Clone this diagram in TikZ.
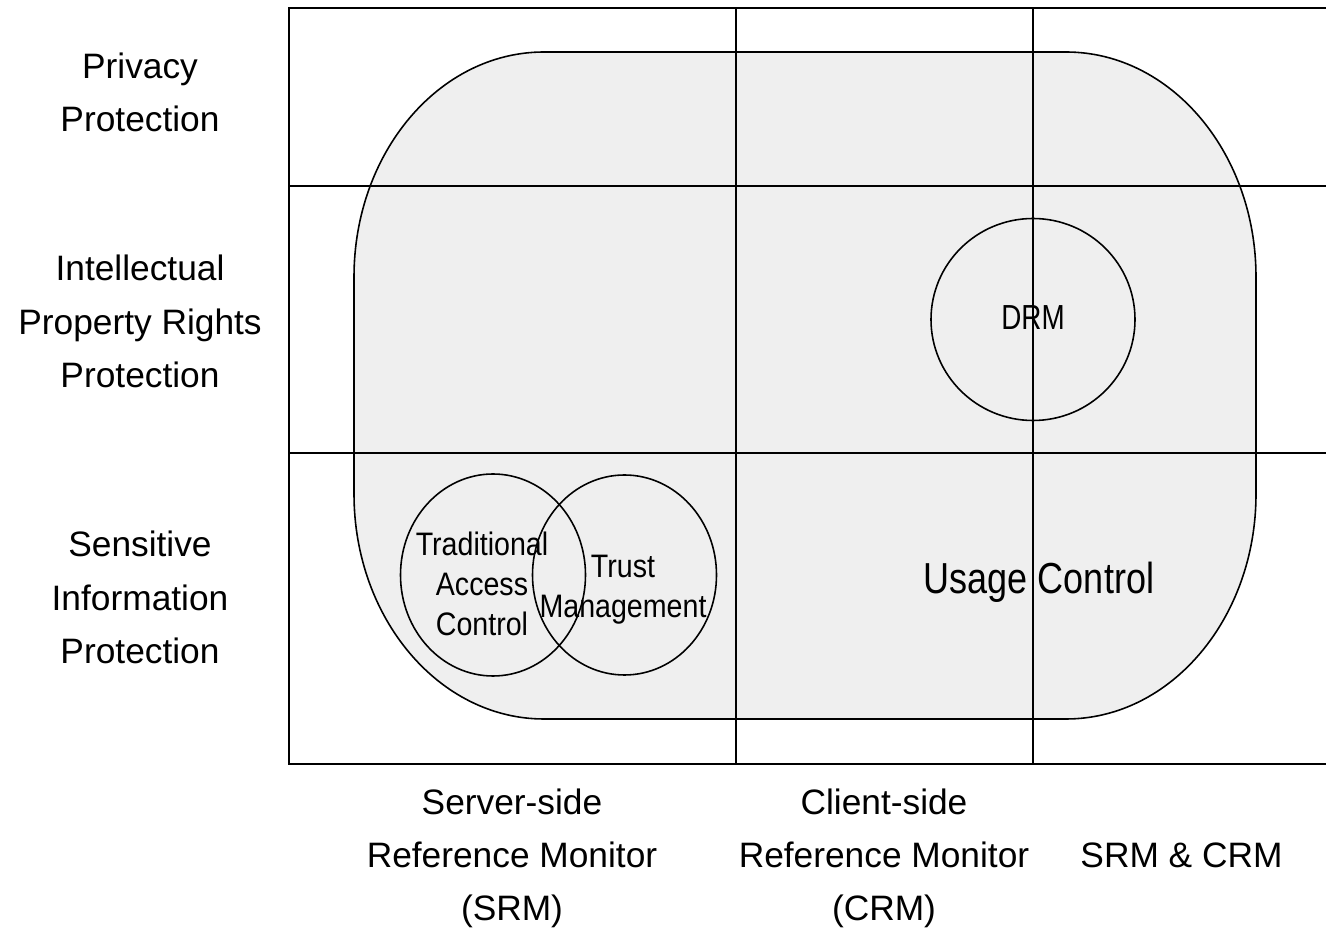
\documentclass[tikz,border=0pt]{standalone}
\usepackage{fontspec}
\setmainfont{Liberation Sans}
\begin{document}
\begin{tikzpicture}[x=0.02cm,y=0.02cm,
  gridline/.style={line width=0.9pt,black},
  outline/.style={line width=0.9pt,black},
  axislabel/.style={align=center,anchor=base,inner sep=0pt,
    font=\fontsize{20.1}{30.4}\selectfont},
  innerlabel/.style={align=center,anchor=base,inner sep=0pt,xscale=0.88,
    font=\fontsize{18.5}{23}\selectfont}]
\useasboundingbox (0,0) rectangle (1326,930);
\fill[white] (0,0) rectangle (1326,930);

% usage control region: rounded rectangle with elliptical corners
\filldraw[outline,fill={rgb,255:red,239;green,239;blue,239}]
  (544,878) -- (1066,878)
  arc[start angle=90,end angle=0,x radius=190,y radius=225]
  -- (1256,436)
  arc[start angle=0,end angle=-90,x radius=190,y radius=225]
  -- (544,211)
  arc[start angle=-90,end angle=-180,x radius=190,y radius=225]
  -- (354,653)
  arc[start angle=180,end angle=90,x radius=190,y radius=225]
  -- cycle;

% model circles
\draw[outline] (1033,610.5) ellipse[x radius=102,y radius=101];
\draw[outline] (493,355) ellipse[x radius=92.5,y radius=101];
\draw[outline] (624.5,355) ellipse[x radius=92,y radius=100];

% grid of protection goals and reference monitors
\draw[gridline] (1326,922) -- (289,922) -- (289,166) -- (1326,166);
\draw[gridline] (289,744) -- (1326,744);
\draw[gridline] (289,477) -- (1326,477);
\draw[gridline] (736,922) -- (736,166);
\draw[gridline] (1033,922) -- (1033,166);

% row labels (anchored at the baseline of their last line)
\node[axislabel] (priv) at (140,798) {Privacy\\Protection};
\node[axislabel] (ipr) at (140,542.5) {Intellectual\\Property Rights\\Protection};
\node[axislabel] (sip) at (140,266.5) {Sensitive\\Information\\Protection};

% column labels
\node[axislabel] (srm) at (512,9) {Server-side\\Reference Monitor\\(SRM)};
\node[axislabel] (crm) at (884,9) {Client-side\\Reference Monitor\\(CRM)};
\node[axislabel] (both) at (1181.5,62) {SRM \& CRM};

% region and circle labels
\node[anchor=base,inner sep=0pt,xscale=0.8,font=\fontsize{19.8}{24}\selectfont]
  (drm) at (1033,600) {DRM};
\node[anchor=base,inner sep=0pt,xscale=0.83,font=\fontsize{24.7}{30}\selectfont]
  (ucon) at (1039,336) {Usage Control};
\node[innerlabel] (tac) at (482,294) {Traditional\\Access\\Control};
\node[innerlabel] (tm) at (623,312) {Trust\\Management};
\end{tikzpicture}
\end{document}
